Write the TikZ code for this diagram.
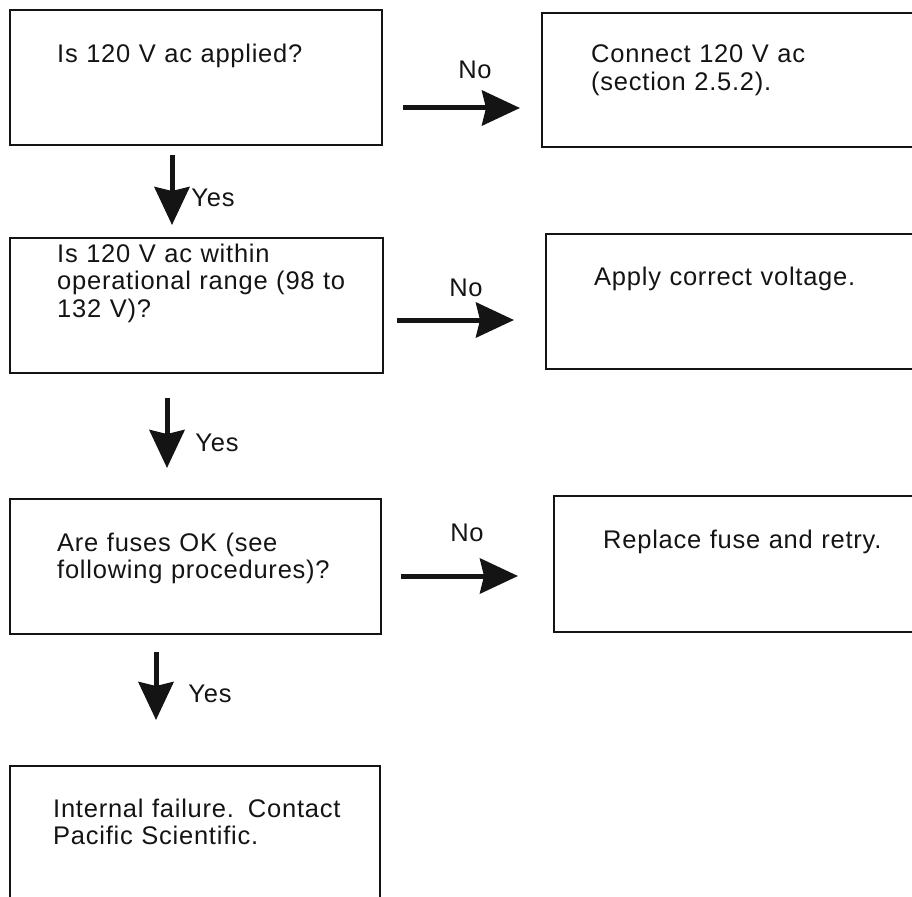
\documentclass[tikz,border=0pt]{standalone}
\usepackage{fontspec}
\setmainfont{Liberation Sans}[LetterSpace=3]
\usepackage{tikz}
\usetikzlibrary{arrows.meta, positioning}
\definecolor{mydark}{RGB}{20,20,20}
\tikzset{
  box/.style={rectangle, draw=mydark, line width=1.6pt, anchor=north west, inner sep=0pt},
  boxtext/.style={anchor=base west, inner sep=0pt, align=left, text width=340pt,
    font=\fontsize{25.5}{27.5}\selectfont, color=mydark},
  lbl/.style={inner sep=0pt, font=\fontsize{25.5}{27.5}\selectfont, color=mydark},
  arrow/.style={-{Stealth[length=38pt, width=35pt, inset=4pt]}, line width=5pt, color=mydark}
}

\begin{document}
\begin{tikzpicture}[x=1pt, y=-1pt]
  \useasboundingbox (0,0) rectangle (912,896);
  \node[box, minimum width=372pt, minimum height=135pt] (q1) at (9,9) {};
  \node[box, minimum width=375pt, minimum height=134pt] (a1) at (541,12) {};
  \node[box, minimum width=373pt, minimum height=135pt] (q2) at (9,237) {};
  \node[box, minimum width=371pt, minimum height=135pt] (a2) at (545,233) {};
  \node[box, minimum width=371pt, minimum height=135pt] (q3) at (9,498) {};
  \node[box, minimum width=363pt, minimum height=136pt] (a3) at (553,495) {};
  \node[box, minimum width=370pt, minimum height=140pt] (fail) at (9,765) {};
  \node[boxtext] (q1t) at (57,63) {Is 120 V ac applied?};
  \node[boxtext] (a1t) at (591,63) {Connect 120 V ac\\(section 2.5.2).};
  \node[boxtext] (q2t) at (57,262) {Is 120 V ac within\\operational range (98 to\\132 V)?};
  \node[boxtext] (a2t) at (594,285) {Apply correct voltage.};
  \node[boxtext] (q3t) at (57,551) {Are fuses OK (see\\following procedures)?};
  \node[boxtext] (a3t) at (603,548) {Replace fuse and retry.};
  \node[boxtext] (failt) at (53,817) {Internal failure.\hspace{0.55em}Contact\\Pacific Scientific.};
  \coordinate (no1s) at (403,108);
  \coordinate (no1e) at (520,108);
  \coordinate (no2s) at (397,320);
  \coordinate (no2e) at (514,320);
  \coordinate (no3s) at (401,576);
  \coordinate (no3e) at (518,576);
  \coordinate (yes1s) at (172,155);
  \coordinate (yes1e) at (172,225);
  \coordinate (yes2s) at (167,398);
  \coordinate (yes2e) at (167,468);
  \coordinate (yes3s) at (156,652);
  \coordinate (yes3e) at (156,720);
  \draw[arrow] (no1s) -- (no1e);
  \draw[arrow] (no2s) -- (no2e);
  \draw[arrow] (no3s) -- (no3e);
  \draw[arrow] (yes1s) -- (yes1e);
  \draw[arrow] (yes2s) -- (yes2e);
  \draw[arrow] (yes3s) -- (yes3e);
  \node[lbl] (no1) at (475,70) {No};
  \node[lbl] (no2) at (466,288) {No};
  \node[lbl] (no3) at (467,533) {No};
  \node[lbl] (yes1) at (213,198) {Yes};
  \node[lbl] (yes2) at (217,443) {Yes};
  \node[lbl] (yes3) at (210,694) {Yes};
\end{tikzpicture}
\end{document}
